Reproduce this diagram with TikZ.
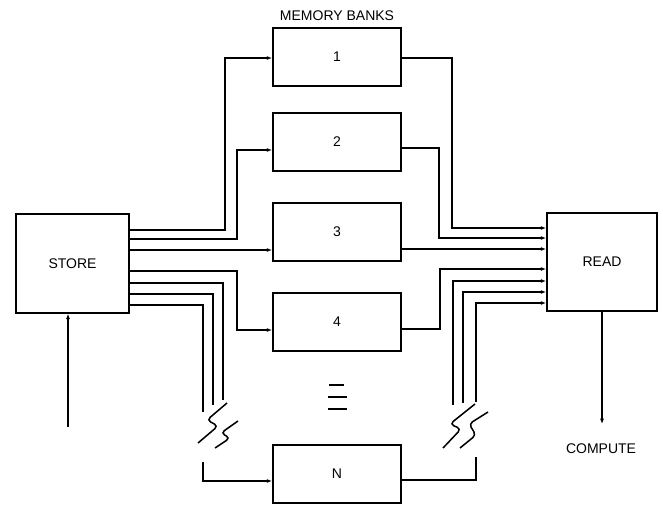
\documentclass[tikz,border=0pt]{standalone}
\usepackage{fontspec}
\setmainfont{Liberation Sans}
\usetikzlibrary{arrows.meta,positioning}
\begin{document}
\begin{tikzpicture}[
x=0.75pt, y=-0.75pt,
line width=1.15pt,
font=\fontsize{10.5}{12}\selectfont,
box/.style={draw, line width=1.3pt, align=center, inner sep=2pt},
bank/.style={box, minimum width=96pt, minimum height=43.5pt},
arr/.style={-{Latex[length=4pt,width=3pt]}},
brk/.style={line width=1.15pt, rounded corners=3pt}
]
\useasboundingbox (0,0) rectangle (663,506);
% memory banks
\node[bank] (b1) at (337,57) {1};
\node[bank] (b2) at (337,142) {2};
\node[bank] (b3) at (337,232) {3};
\node[bank] (b4) at (337,322) {4};
\node[bank] (bN) at (337,474) {N};
\node[above=1pt of b1] (title) {MEMORY BANKS};
% store and read
\node[box, minimum width=85pt, minimum height=74pt] (store) at (72.5,263.5) {STORE};
\node[box, minimum width=82.5pt, minimum height=73.5pt] (read) at (602,262) {READ};
\node (compute) at (601,449) {COMPUTE};
\coordinate (sin) at (68,427);
\coordinate (cout) at (602,424);
% free ends at the breaks
\coordinate (l5) at (223,400);
\coordinate (l6) at (213,405);
\coordinate (l7) at (203,412);
\coordinate (l7b) at (203,462);
\coordinate (r5) at (453,405);
\coordinate (r6) at (463,403);
\coordinate (r7) at (476,402);
\coordinate (r7b) at (476,457);
% store to banks
\draw[arr] (store.east |- 0,230) -| (225,58) -- (b1.west |- 0,58);
\draw[arr] (store.east |- 0,239) -| (237,150) -- (b2.west |- 0,150);
\draw[arr] (store.east |- 0,250) -- (b3.west |- 0,250);
\draw[arr] (store.east |- 0,271) -| (237,330) -- (b4.west |- 0,330);
\draw (store.east |- 0,283) -| (l5);
\draw (store.east |- 0,294) -| (l6);
\draw (store.east |- 0,305) -| (l7);
\draw[arr] (l7b) |- (bN.west |- 0,481);
% banks to read
\draw[arr] (b1.east |- 0,58) -| (452,228) -- (read.west |- 0,228);
\draw[arr] (b2.east |- 0,148) -| (439,238) -- (read.west |- 0,238);
\draw[arr] (b3.east |- 0,249) -- (read.west |- 0,249);
\draw[arr] (b4.east |- 0,329) -| (440,269) -- (read.west |- 0,269);
\draw[arr] (r5) |- (read.west |- 0,281);
\draw[arr] (r6) |- (read.west |- 0,292);
\draw[arr] (r7) |- (read.west |- 0,303);
\draw (bN.east |- 0,480) -| (r7b);
% in and out
\draw[arr] (sin) -- (sin |- store.south);
\draw[arr] (read.south) -- (cout);
% break marks
\draw[brk] (227,403) -- (207,420) -- (218,426) -- (198,443);
\draw[brk] (238,421) -- (221,433) -- (230,438) -- (215,448);
\draw[brk] (475,404) -- (450,424) -- (461,429) -- (443,448);
\draw[brk] (488,412) -- (469,424) -- (476,435) -- (460,448);
% dots between banks
\draw (329,385) -- (344,385);
\draw (328,397) -- (347,397);
\draw[line width=1.6pt] (328,409) -- (347,409);
\end{tikzpicture}
\end{document}
